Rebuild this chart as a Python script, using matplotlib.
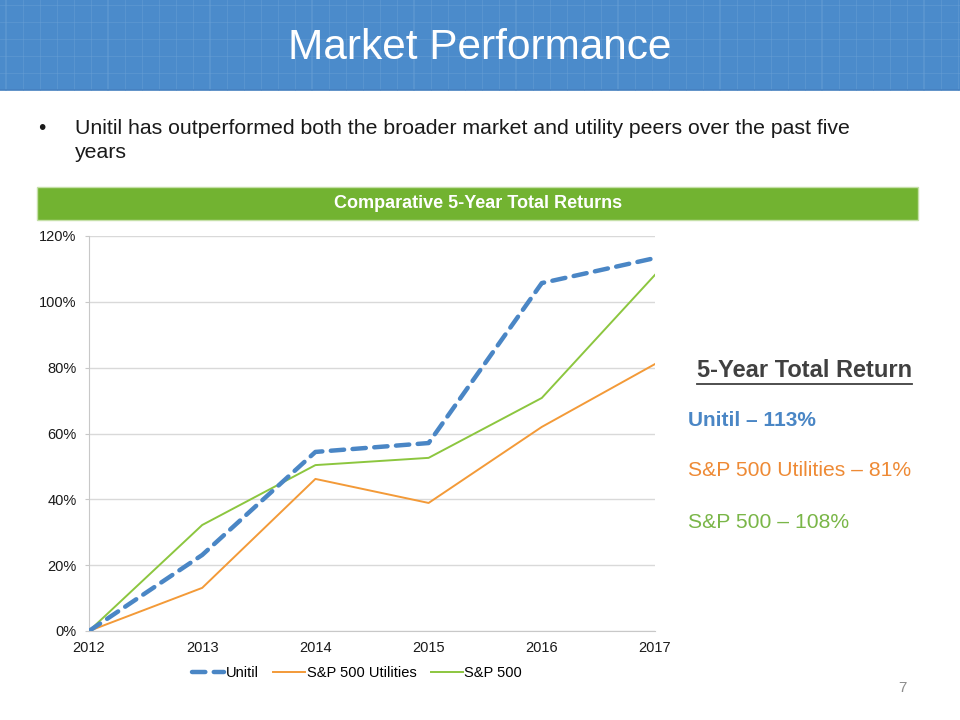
import matplotlib
matplotlib.use("Agg")
import matplotlib.pyplot as plt
from matplotlib.patches import Rectangle
from matplotlib.lines import Line2D
from matplotlib.ticker import PercentFormatter

plt.rcParams['font.family'] = ['Liberation Sans', 'DejaVu Sans']

# data
years = [2012, 2013, 2014, 2015, 2016, 2017]
unitil = [0.0, 23.1, 54.4, 57.1, 105.7, 113.3]
sp_utilities = [0.0, 13.1, 46.2, 38.9, 62.0, 81.1]
sp500 = [0.0, 32.2, 50.4, 52.6, 70.8, 108.2]
y_ticks = [0, 20, 40, 60, 80, 100, 120]

blue = '#4a86c5'
orange = '#f39a38'
green = '#8cc63f'

fig = plt.figure(figsize=(9.6, 7.2), dpi=100)
W, H = 960, 720

def fx(px):
    return px / W

def fy(py):
    return 1 - py / H

# header band with faint grid pattern
fig.patches.append(Rectangle((0, fy(90)), 1, 90 / H, transform=fig.transFigure,
                             facecolor='#4b8bcb', edgecolor='none', zorder=0))
for x in range(6, W, 17):
    lw = 1.2 if (x - 6) % 102 == 0 else 0.6
    fig.lines.append(Line2D([fx(x), fx(x)], [fy(90), 1], transform=fig.transFigure,
                            color='#6fa3d8', lw=lw, alpha=0.45, zorder=1))
for y in range(5, 90, 17):
    fig.lines.append(Line2D([0, 1], [fy(y), fy(y)], transform=fig.transFigure,
                            color='#6fa3d8', lw=0.6, alpha=0.45, zorder=1))
fig.lines.append(Line2D([0, 1], [fy(90), fy(90)], transform=fig.transFigure,
                        color='#4580bf', lw=1.2, zorder=1))
fig.text(0.5, fy(48), 'Market Performance', color='white', fontsize=30.5,
         ha='center', va='center', zorder=2)

# bullet
fig.text(fx(38), fy(128), '\u2022', fontsize=15, color='#1a1a1a', va='center')
fig.text(fx(75), fy(128), 'Unitil has outperformed both the broader market and utility peers over the past five',
         fontsize=15.3, color='#1a1a1a', va='center')
fig.text(fx(75), fy(153), 'years', fontsize=15.3, color='#1a1a1a', va='center')

# green banner
fig.patches.append(Rectangle((fx(37), fy(220)), fx(918) - fx(37), 33 / H,
                             transform=fig.transFigure, facecolor='#72b331',
                             edgecolor='#c5e0a8', lw=1, zorder=0))
fig.text(fx(478), fy(204), 'Comparative 5-Year Total Returns', color='white',
         fontsize=13, fontweight='bold', ha='center', va='center')

# chart
ax = fig.add_axes([fx(89), fy(631), fx(655) - fx(89), (631 - 236) / H])
ax.plot(years, unitil, color=blue, lw=3.2, dashes=(3, 1.9), dash_capstyle='round',
        label='Unitil', zorder=3)
ax.plot(years, sp_utilities, color=orange, lw=1.4, label='S&P 500 Utilities', zorder=2)
ax.plot(years, sp500, color=green, lw=1.4, label='S&P 500', zorder=2)

ax.set_xlim(2012, 2017)
ax.set_ylim(0, 120)
ax.set_xticks(years)
ax.set_yticks(y_ticks)
ax.yaxis.set_major_formatter(PercentFormatter(decimals=0))
ax.grid(axis='y', color='#d9d9d9', lw=1)
ax.set_axisbelow(True)
for s in ['top', 'right']:
    ax.spines[s].set_visible(False)
for s in ['left', 'bottom']:
    ax.spines[s].set_color('#c8c8c8')
ax.tick_params(axis='y', length=3, color='#c8c8c8', labelsize=10.5, labelcolor='#1a1a1a', pad=6)
ax.tick_params(axis='x', length=0, labelsize=10.5, labelcolor='#1a1a1a', pad=7)

fig.legend(loc='center', bbox_to_anchor=(fx(357), fy(673)), ncol=3, frameon=False,
           fontsize=10.5, handlelength=2.2, columnspacing=1.0, handletextpad=0.1)

# right-hand summary
t = fig.text(fx(697), fy(371), '5-Year Total Return', fontsize=17, fontweight='bold',
             color='#404040', va='center')
fig.canvas.draw()
bb = t.get_window_extent(fig.canvas.get_renderer()).transformed(fig.transFigure.inverted())
fig.lines.append(Line2D([bb.x0, bb.x1], [bb.y0 - 0.002, bb.y0 - 0.002],
                        transform=fig.transFigure, color='#404040', lw=1.3))
fig.text(fx(688), fy(421), 'Unitil \u2013 113%', fontsize=15, fontweight='bold',
         color=blue, va='center')
fig.text(fx(688), fy(471), 'S&P 500 Utilities \u2013 81%', fontsize=15.2,
         color='#ee8a35', va='center')
fig.text(fx(688), fy(522), 'S&P 500 \u2013 108%', fontsize=15.2, color='#7ab648', va='center')

fig.text(fx(898), fy(688), '7', fontsize=11, color='#8c8c8c', va='center')

fig.savefig('out.png', dpi=100)
